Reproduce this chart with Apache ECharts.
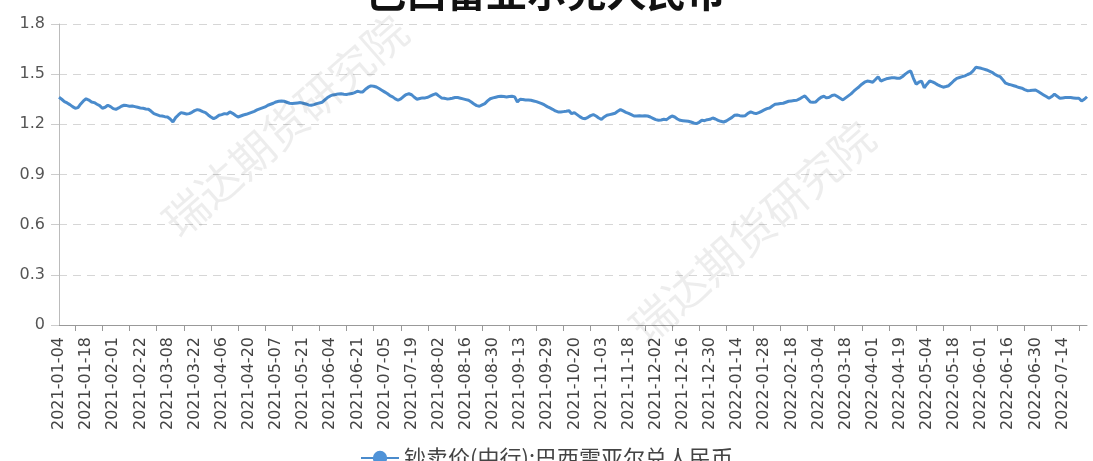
<!DOCTYPE html>
<html>
<head>
<meta charset="utf-8">
<script src="https://cdn.jsdelivr.net/npm/echarts@6/dist/echarts.min.js"></script>
<style>
html,body{margin:0;padding:0;background:#fff;}
#chart{width:1093px;height:461px;}
</style>
</head>
<body>
<div id="chart"></div>
<script>
// Trading days per month (explicit list of dates on the category axis)
const tradingDays = [
  ["2021-01", [4,5,6,7,8,11,12,13,14,15,18,19,20,21,22,25,26,27,28,29]],
  ["2021-02", [1,2,3,4,5,8,9,10,18,19,22,23,24,25,26]],
  ["2021-03", [1,2,3,4,5,8,9,10,11,12,15,16,17,18,19,22,23,24,25,26,29,30,31]],
  ["2021-04", [1,2,6,7,8,9,12,13,14,15,16,19,20,21,22,23,26,27,28,29,30]],
  ["2021-05", [6,7,10,11,12,13,14,17,18,19,20,21,24,25,26,27,28,31]],
  ["2021-06", [1,2,3,4,7,8,9,10,11,15,16,17,18,21,22,23,24,25,28,29,30]],
  ["2021-07", [1,2,5,6,7,8,9,12,13,14,15,16,19,20,21,22,23,26,27,28,29,30]],
  ["2021-08", [2,3,4,5,6,9,10,11,12,13,16,17,18,19,20,23,24,25,26,27,30,31]],
  ["2021-09", [1,2,3,6,7,8,9,10,13,14,15,16,17,22,23,24,27,28,29,30]],
  ["2021-10", [8,11,12,13,14,15,18,19,20,21,22,25,26,27,28,29]],
  ["2021-11", [1,2,3,4,5,8,9,10,12,15,16,17,18,19,22,23,24,25,26,29,30]],
  ["2021-12", [1,2,3,6,7,8,9,10,13,14,15,16,17,20,21,22,23,24,27,28,29,30,31]],
  ["2022-01", [4,5,6,7,10,11,12,13,14,17,18,19,20,21,24,25,26,27,28]],
  ["2022-02", [7,8,9,10,11,14,15,16,17,18,21,22,23,24,25,28]],
  ["2022-03", [1,2,3,4,7,8,9,10,11,14,15,16,17,18,21,22,23,24,25,28,29,30,31]],
  ["2022-04", [1,6,7,8,11,12,13,14,15,18,19,20,21,22,24,25,26,27,28,29]],
  ["2022-05", [4,5,6,9,10,11,12,13,16,17,18,19,20,23,24,25,26,27,30,31]],
  ["2022-06", [1,2,6,7,8,9,10,13,14,15,16,17,20,21,22,23,24,27,28,29,30]],
  ["2022-07", [1,4,5,6,7,8,11,12,13,14,15,18,19,20,21,22,25,26,27]]
];
const categories = [];
tradingDays.forEach(([m, days]) => days.forEach(d => categories.push(m + "-" + String(d).padStart(2, "0"))));

// 钞卖价(中行):巴西雷亚尔兑人民币
const values = [
  1.362,1.350,1.336,1.328,1.318,1.306,1.296,1.300,1.322,1.340,
  1.353,1.345,1.334,1.330,1.320,1.312,1.296,1.302,1.314,1.306,
  1.294,1.290,1.298,1.308,1.314,1.312,1.308,1.310,1.306,1.302,
  1.298,1.296,1.292,1.290,1.278,1.264,1.258,1.252,1.250,1.246,
  1.244,1.232,1.214,1.240,1.256,1.270,1.266,1.262,1.264,1.272,
  1.282,1.288,1.284,1.276,1.270,1.256,1.244,1.234,1.242,1.254,
  1.258,1.264,1.262,1.274,1.266,1.254,1.244,1.250,1.256,1.260,
  1.266,1.272,1.278,1.286,1.292,1.298,1.304,1.314,1.320,1.326,
  1.334,1.338,1.340,1.338,1.332,1.326,1.324,1.326,1.328,1.330,
  1.326,1.322,1.316,1.314,1.318,1.324,1.328,1.332,1.346,1.360,
  1.370,1.376,1.378,1.382,1.383,1.380,1.378,1.382,1.384,1.390,
  1.398,1.394,1.394,1.410,1.422,1.430,1.428,1.423,1.414,1.404,
  1.394,1.384,1.372,1.364,1.352,1.344,1.352,1.366,1.378,1.383,
  1.377,1.362,1.350,1.354,1.358,1.358,1.362,1.370,1.378,1.383,
  1.370,1.358,1.356,1.352,1.353,1.356,1.360,1.360,1.356,1.352,
  1.348,1.344,1.334,1.322,1.312,1.308,1.316,1.324,1.340,1.353,
  1.358,1.362,1.366,1.368,1.366,1.364,1.366,1.368,1.364,1.334,
  1.350,1.348,1.346,1.346,1.344,1.340,1.336,1.330,1.324,1.316,
  1.306,1.298,1.290,1.280,1.274,1.274,1.276,1.278,1.282,1.264,
  1.270,1.258,1.246,1.236,1.234,1.242,1.252,1.258,1.250,1.238,
  1.230,1.244,1.254,1.258,1.262,1.266,1.278,1.288,1.280,1.272,
  1.266,1.258,1.250,1.250,1.252,1.250,1.252,1.250,1.244,1.236,
  1.228,1.224,1.226,1.230,1.228,1.240,1.250,1.244,1.232,1.224,
  1.222,1.220,1.218,1.214,1.208,1.204,1.212,1.224,1.222,1.228,
  1.230,1.238,1.232,1.224,1.218,1.214,1.220,1.230,1.240,1.254,
  1.256,1.252,1.250,1.252,1.266,1.274,1.268,1.264,1.270,1.278,
  1.286,1.294,1.298,1.310,1.320,1.322,1.324,1.326,1.332,1.338,
  1.340,1.342,1.344,1.352,1.362,1.370,1.352,1.334,1.332,1.334,
  1.350,1.362,1.368,1.358,1.362,1.372,1.376,1.366,1.356,1.346,
  1.358,1.370,1.382,1.398,1.412,1.425,1.440,1.452,1.459,1.456,
  1.452,1.468,1.485,1.459,1.466,1.472,1.475,1.478,1.479,1.476,
  1.475,1.486,1.500,1.512,1.519,1.475,1.440,1.452,1.459,1.419,
  1.440,1.459,1.454,1.446,1.436,1.428,1.422,1.426,1.431,1.446,
  1.462,1.475,1.480,1.485,1.490,1.498,1.505,1.520,1.541,1.538,
  1.535,1.530,1.525,1.518,1.511,1.500,1.490,1.485,1.466,1.446,
  1.440,1.436,1.431,1.426,1.420,1.416,1.408,1.401,1.402,1.404,
  1.405,1.396,1.386,1.376,1.366,1.356,1.366,1.380,1.368,1.356,
  1.358,1.360,1.360,1.360,1.358,1.356,1.356,1.340,1.350,1.365
];

const titleText = "巴西雷亚尔兑人民币";
const seriesName = "钞卖价(中行):巴西雷亚尔兑人民币";
const watermarkText = "瑞达期货研究院";
const yTicks = { min: 0, max: 1.8, interval: 0.3 };

const chart = echarts.init(document.getElementById('chart'), null, { renderer: 'canvas' });
const cjk = '"Noto Sans CJK SC", "Noto Sans", sans-serif';
chart.setOption({
  backgroundColor: '#ffffff',
  animation: false,
  title: {
    text: titleText,
    left: 'center',
    top: -33,
    textStyle: { fontSize: 40, fontWeight: 'bold', color: '#111', fontFamily: cjk }
  },
  graphic: [
    { type: 'text', x: 285, y: 126, rotation: 0.72, z: 100, silent: true,
      style: { text: watermarkText, font: '44px ' + cjk, fill: 'rgba(0,0,0,0.07)', align: 'center', verticalAlign: 'middle' } },
    { type: 'text', x: 752, y: 232, rotation: 0.72, z: 100, silent: true,
      style: { text: watermarkText, font: '44px ' + cjk, fill: 'rgba(0,0,0,0.07)', align: 'center', verticalAlign: 'middle' } }
  ],
  legend: {
    data: [seriesName],
    left: 'center',
    top: 442,
    itemWidth: 38,
    itemHeight: 18,
    itemGap: 10,
    textStyle: { fontSize: 22, color: '#444', fontFamily: cjk }
  },
  grid: { left: 59, right: 6, top: 24, bottom: 136, containLabel: false },
  xAxis: {
    type: 'category',
    data: categories,
    boundaryGap: false,
    axisLine: { lineStyle: { color: '#999', width: 1 } },
    axisTick: { show: true, length: 6, interval: (i) => i % 10 === 6, lineStyle: { color: '#999' } },
    axisLabel: { interval: 9, rotate: 90, margin: 12, fontSize: 16, color: '#444', fontFamily: '"DejaVu Sans", sans-serif' },
    splitLine: { show: false }
  },
  yAxis: {
    type: 'value',
    min: yTicks.min,
    max: yTicks.max,
    interval: yTicks.interval,
    axisLine: { show: true, lineStyle: { color: '#bbb' } },
    axisTick: { show: true, length: 8, lineStyle: { color: '#ccc' } },
    axisLabel: { margin: 14, fontSize: 16, color: '#555', fontFamily: '"DejaVu Sans", sans-serif' },
    splitLine: { show: true, lineStyle: { type: [8, 6], color: '#d6d6d6', width: 1 } }
  },
  series: [{
    name: seriesName,
    type: 'line',
    data: values,
    symbol: 'circle',
    symbolSize: 8,
    showSymbol: false,
    itemStyle: { color: '#4f93d8' },
    lineStyle: { color: '#4a8bcc', width: 3 }
  }]
});
</script>
</body>
</html>
